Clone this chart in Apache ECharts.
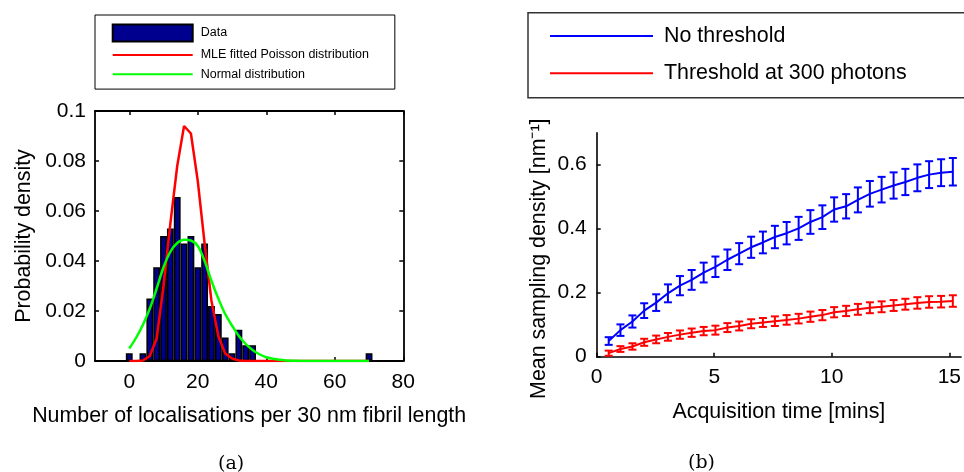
<!DOCTYPE html>
<html>
<head>
<meta charset="utf-8">
<script src="https://cdn.jsdelivr.net/npm/echarts@6/dist/echarts.min.js"></script>
<style>
  html, body { margin: 0; padding: 0; background: #fff; }
  #chart { width: 964px; height: 472px; }
</style>
</head>
<body>
<div id="chart"></div>
<script>
// ---------- (a) localisations per 30 nm fibril length ----------
const binCentres = [0, 2, 4, 6, 8, 10, 12, 14, 16, 18, 20, 22, 24, 26, 28, 30, 32, 34,
  36, 38, 40, 42, 44, 46, 48, 50, 52, 54, 56, 58, 60, 62, 64, 66, 68, 70];
const dataDensity = [0.0031, 0, 0.0031, 0.025, 0.0375, 0.05, 0.053, 0.0656, 0.047, 0.05,
  0.0375, 0.047, 0.022, 0.0188, 0.0094, 0.0031, 0.0125, 0.0063, 0.0063,
  0, 0, 0, 0, 0, 0, 0, 0, 0, 0, 0, 0, 0, 0, 0, 0, 0.0031];
const poissonFit = [0, 0, 0.0002, 0.002, 0.009, 0.030, 0.055, 0.078, 0.094, 0.091,
  0.072, 0.047, 0.024, 0.010, 0.003, 0.001, 0.0002,
  0, 0, 0, 0, 0, 0, 0, 0, 0, 0, 0, 0, 0, 0, 0, 0, 0, 0, 0];
const normalFit = [0.005, 0.0093, 0.0145, 0.021, 0.029, 0.0375, 0.0437, 0.0472, 0.0485, 0.0482,
  0.046, 0.040, 0.032, 0.025, 0.0188, 0.0142, 0.010, 0.0068, 0.0044, 0.0027,
  0.0015, 0.0009, 0.0005, 0.0002, 0.0001, 0, 0, 0, 0, 0, 0, 0, 0, 0, 0, 0];
const histXTicks = [0, 20, 40, 60, 80];
const histYTicks = [0, 0.02, 0.04, 0.06, 0.08, 0.1];

// ---------- (b) mean sampling density vs acquisition time ----------
const acqTime = [0.51, 1.01, 1.52, 2.02, 2.53, 3.03, 3.54, 4.04, 4.55, 5.05,
  5.56, 6.06, 6.57, 7.07, 7.58, 8.08, 8.59, 9.09, 9.6, 10.1,
  10.61, 11.11, 11.62, 12.12, 12.63, 13.13, 13.64, 14.14, 14.65, 15.15];
const noThreshold = [0.049, 0.083, 0.110, 0.144, 0.169, 0.198, 0.222, 0.240, 0.263, 0.281,
  0.303, 0.322, 0.342, 0.357, 0.374, 0.386, 0.401, 0.421, 0.436, 0.460,
  0.470, 0.490, 0.509, 0.522, 0.535, 0.546, 0.559, 0.569, 0.575, 0.578];
const noThresholdErr = [0.012, 0.018, 0.019, 0.023, 0.026, 0.028, 0.030, 0.031, 0.031, 0.032,
  0.032, 0.033, 0.033, 0.034, 0.035, 0.035, 0.036, 0.037, 0.037, 0.038,
  0.038, 0.039, 0.040, 0.040, 0.041, 0.041, 0.042, 0.042, 0.042, 0.043];
const threshold300 = [0.011, 0.024, 0.032, 0.045, 0.054, 0.062, 0.069, 0.075, 0.080, 0.083,
  0.091, 0.096, 0.103, 0.107, 0.111, 0.115, 0.119, 0.125, 0.130, 0.139,
  0.143, 0.148, 0.153, 0.156, 0.160, 0.164, 0.168, 0.171, 0.172, 0.174];
const threshold300Err = [0.008, 0.009, 0.010, 0.011, 0.012, 0.012, 0.013, 0.013, 0.013, 0.014,
  0.014, 0.014, 0.014, 0.014, 0.015, 0.015, 0.015, 0.016, 0.016, 0.016,
  0.016, 0.017, 0.017, 0.017, 0.017, 0.017, 0.018, 0.018, 0.018, 0.018];
const timeTicks = [0, 5, 10, 15];
const densityTicks = [0, 0.2, 0.4, 0.6];

const FONT = 'Liberation Sans, Arial, Helvetica, sans-serif';
const NAVY = '#00008f';

const pairs = (xs, ys) => xs.map((x, i) => [x, ys[i]]);
const errRows = (xs, ys, es) => xs.map((x, i) => [x, ys[i] - es[i], ys[i] + es[i]]);

// vertical error bar with short caps, positioned through the axis scales
function errorBar(color) {
  return function (params, api) {
    const x = api.value(0);
    const lo = api.coord([x, api.value(1)]);
    const hi = api.coord([x, api.value(2)]);
    const cap = 4;
    const style = { stroke: color, lineWidth: 2 };
    return {
      type: 'group',
      children: [
        { type: 'line', shape: { x1: lo[0], y1: lo[1], x2: hi[0], y2: hi[1] }, style },
        { type: 'line', shape: { x1: hi[0] - cap, y1: hi[1], x2: hi[0] + cap, y2: hi[1] }, style },
        { type: 'line', shape: { x1: lo[0] - cap, y1: lo[1], x2: lo[0] + cap, y2: lo[1] }, style }
      ]
    };
  };
}

const labelStyle = { color: '#000', fontFamily: FONT, fontSize: 21 };
const nameStyle = { color: '#000', fontFamily: FONT, fontSize: 21.4 };
// legend entries for plain lines: keep the stroke, hide the marker
const lineOnly = { itemStyle: { opacity: 0 } };

const chart = echarts.init(document.getElementById('chart'), null, { renderer: 'canvas' });

chart.setOption({
  backgroundColor: '#fff',
  animation: false,
  grid: [
    { left: 95, right: 560.7, top: 111, bottom: 111 },
    { left: 596.7, right: 0, top: 132.7, bottom: 115.3 }
  ],
  xAxis: [
    {
      gridIndex: 0, type: 'value', min: -10, max: 80, position: 'bottom',
      name: 'Number of localisations per 30 nm fibril length',
      nameLocation: 'middle', nameGap: 45, nameTextStyle: nameStyle,
      axisLine: { onZero: false, lineStyle: { color: '#000', width: 1.8 } },
      axisTick: { inside: true, length: 4, customValues: histXTicks, lineStyle: { color: '#000', width: 1.5 } },
      axisLabel: { customValues: histXTicks, margin: 11, ...labelStyle },
      splitLine: { show: false }
    },
    {
      gridIndex: 0, type: 'value', min: -10, max: 80, position: 'top',
      axisLine: { onZero: false, lineStyle: { color: '#000', width: 1.8 } },
      axisTick: { inside: true, length: 4, customValues: histXTicks, lineStyle: { color: '#000', width: 1.5 } },
      axisLabel: { show: false },
      splitLine: { show: false }
    },
    {
      gridIndex: 1, type: 'value', min: 0, max: 15.5, position: 'bottom',
      name: 'Acquisition time [mins]',
      nameLocation: 'middle', nameGap: 45, nameTextStyle: nameStyle,
      axisLine: { onZero: false, lineStyle: { color: '#000', width: 1.6 } },
      axisTick: { inside: true, length: 4, customValues: timeTicks, lineStyle: { color: '#000', width: 1.5 } },
      axisLabel: { customValues: timeTicks, margin: 10, ...labelStyle },
      splitLine: { show: false }
    }
  ],
  yAxis: [
    {
      gridIndex: 0, type: 'value', min: 0, max: 0.1, position: 'left',
      name: 'Probability density',
      nameLocation: 'middle', nameGap: 60, nameTextStyle: nameStyle,
      axisLine: { onZero: false, lineStyle: { color: '#000', width: 1.8 } },
      axisTick: { inside: true, length: 4, customValues: histYTicks, lineStyle: { color: '#000', width: 1.5 } },
      axisLabel: { customValues: histYTicks, margin: 9, ...labelStyle },
      splitLine: { show: false }
    },
    {
      gridIndex: 0, type: 'value', min: 0, max: 0.1, position: 'right',
      axisLine: { onZero: false, lineStyle: { color: '#000', width: 1.8 } },
      axisTick: { inside: true, length: 4, customValues: histYTicks, lineStyle: { color: '#000', width: 1.5 } },
      axisLabel: { show: false },
      splitLine: { show: false }
    },
    {
      gridIndex: 1, type: 'value', min: 0, max: 0.7, position: 'left',
      name: 'Mean sampling density [nm\u207B\u00B9]',
      nameLocation: 'middle', nameGap: 47,
      nameTextStyle: { ...nameStyle, padding: [0, 28, 0, 0] },
      axisLine: { onZero: false, lineStyle: { color: '#000', width: 1.6 } },
      axisTick: { inside: true, length: 4, customValues: densityTicks, lineStyle: { color: '#000', width: 1.5 } },
      axisLabel: { customValues: densityTicks, margin: 10, ...labelStyle },
      splitLine: { show: false }
    }
  ],
  legend: [
    {
      orient: 'vertical', left: 95, top: 15,
      padding: [8.5, 26, 8, 16.7],
      itemWidth: 80, itemHeight: 17, itemGap: 5.7,
      borderColor: '#000', borderWidth: 1,
      textStyle: { color: '#000', fontFamily: FONT, fontSize: 12.5, padding: [0, 0, 0, 3] },
      data: [
        { name: 'Data', icon: 'rect' },
        { name: 'MLE fitted Poisson distribution', ...lineOnly },
        { name: 'Normal distribution', ...lineOnly }
      ]
    },
    {
      orient: 'vertical', left: 528, top: 12.7,
      padding: [12.8, 80, 13.9, 21],
      itemWidth: 103, itemHeight: 21, itemGap: 16.3,
      borderColor: '#333', borderWidth: 1.5,
      textStyle: { color: '#000', fontFamily: FONT, fontSize: 21.4, lineHeight: 21, padding: [0, 0, 0, 6] },
      data: [
        { name: 'No threshold', ...lineOnly },
        { name: 'Threshold at 300 photons', ...lineOnly }
      ]
    }
  ],
  graphic: [
    { type: 'text', left: 218, top: 455, style: { text: '(a)', fill: '#000', font: '19px "DejaVu Serif", serif' } },
    { type: 'text', left: 688, top: 454, style: { text: '(b)', fill: '#000', font: '19px "DejaVu Serif", serif' } }
  ],
  series: [
    {
      name: 'Data', type: 'bar', xAxisIndex: 0, yAxisIndex: 0,
      barWidth: 6.85,
      itemStyle: { color: NAVY, borderColor: '#000', borderWidth: 1.6 },
      data: pairs(binCentres, dataDensity).filter(d => d[1] > 0)
    },
    {
      name: 'MLE fitted Poisson distribution', type: 'line', xAxisIndex: 0, yAxisIndex: 0,
      symbol: 'none', color: '#ff0000',
      lineStyle: { color: '#ff0000', width: 2.5 },
      data: pairs(binCentres, poissonFit)
    },
    {
      name: 'Normal distribution', type: 'line', xAxisIndex: 0, yAxisIndex: 0,
      symbol: 'none', smooth: 0.35, color: '#00ff00',
      lineStyle: { color: '#00ff00', width: 2.5 },
      data: pairs(binCentres, normalFit)
    },
    {
      name: 'No threshold', type: 'line', xAxisIndex: 2, yAxisIndex: 2,
      symbol: 'none', color: '#0000ff',
      lineStyle: { color: '#0000ff', width: 2 },
      data: pairs(acqTime, noThreshold)
    },
    {
      name: 'Threshold at 300 photons', type: 'line', xAxisIndex: 2, yAxisIndex: 2,
      symbol: 'none', color: '#ff0000',
      lineStyle: { color: '#ff0000', width: 2 },
      data: pairs(acqTime, threshold300)
    },
    {
      name: 'No threshold error', type: 'custom', xAxisIndex: 2, yAxisIndex: 2,
      renderItem: errorBar('#0000ff'),
      encode: { x: 0, y: [1, 2] },
      data: errRows(acqTime, noThreshold, noThresholdErr)
    },
    {
      name: 'Threshold error', type: 'custom', xAxisIndex: 2, yAxisIndex: 2,
      renderItem: errorBar('#ff0000'),
      encode: { x: 0, y: [1, 2] },
      data: errRows(acqTime, threshold300, threshold300Err)
    }
  ]
});
</script>
</body>
</html>
